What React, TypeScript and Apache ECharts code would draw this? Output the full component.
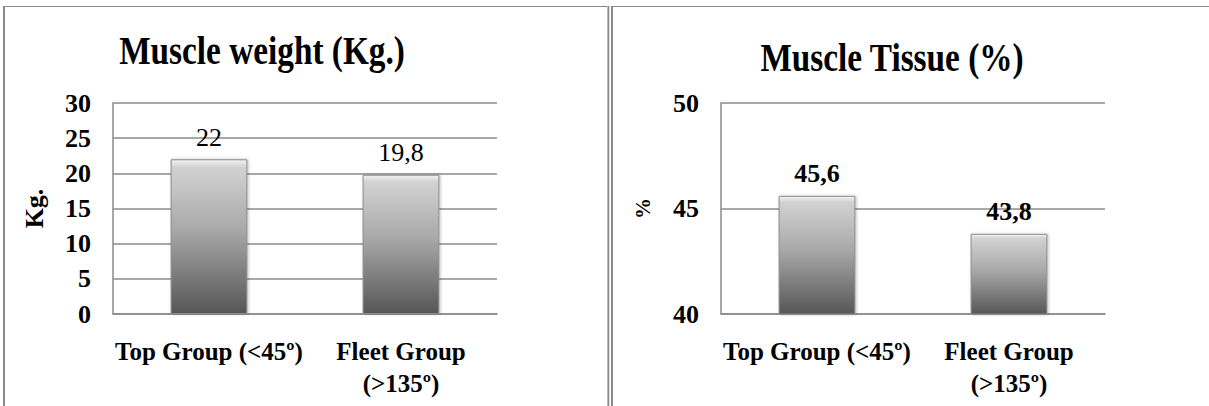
import React, { useEffect, useRef } from "react";
import * as echarts from "echarts";

const categories = ["Top Group (<45º)", "Fleet Group\n(>135º)"];
const weightValues = [22, 19.8];
const tissueValues = [45.6, 43.8];
const weightTicks = { min: 0, max: 30, interval: 5 };
const tissueTicks = { min: 40, max: 50, interval: 5 };
const weightTitle = "Muscle weight (Kg.)";
const tissueTitle = "Muscle Tissue (%)";
const weightAxisName = "Kg.";
const tissueAxisName = "%";

const FONT = "'Liberation Serif', 'DejaVu Serif', serif";
const GRID_GRAY = "#8a8a8a";

const barFill = new echarts.graphic.LinearGradient(0, 0, 0, 1, [
  { offset: 0, color: "#f2f2f2" },
  { offset: 0.05, color: "#d2d2d2" },
  { offset: 0.45, color: "#a9a9a9" },
  { offset: 1, color: "#565656" },
]);

const commaFmt = (p: any) => String(p.value).replace(".", ",");

export default function App() {
  const ref = useRef<HTMLDivElement>(null);

  useEffect(() => {
    if (!ref.current) return;
    const chart = echarts.init(ref.current, null, { renderer: "svg" });

    const yAxisBase = (ticks: any, name: string, nameGap: number, nameSize: number) => ({
      type: "value",
      min: ticks.min,
      max: ticks.max,
      interval: ticks.interval,
      name,
      nameLocation: "middle",
      nameRotate: 90,
      nameGap,
      nameTextStyle: { fontFamily: FONT, fontWeight: "bold", fontSize: nameSize, color: "#000" },
      axisLine: { show: true, lineStyle: { color: GRID_GRAY, width: 1.5 } },
      axisTick: { show: false },
      axisLabel: { fontFamily: FONT, fontWeight: "bold", fontSize: 26, color: "#000", margin: 22 },
      splitLine: { show: true, lineStyle: { color: GRID_GRAY, width: 1.5 } },
    });

    const xAxisBase = (gridIndex: number) => ({
      type: "category",
      gridIndex,
      data: categories,
      axisLine: { show: true, lineStyle: { color: GRID_GRAY, width: 1.5 } },
      axisTick: { show: false },
      axisLabel: {
        fontFamily: FONT,
        fontWeight: "bold",
        fontSize: 25,
        lineHeight: 32,
        color: "#000",
        margin: 21,
        interval: 0,
      },
    });

    const barSeries = (idx: number, data: number[], bold: boolean) => ({
      type: "bar",
      xAxisIndex: idx,
      yAxisIndex: idx,
      data,
      barWidth: "40%",
      itemStyle: {
        color: barFill,
        borderColor: "#8c8c8c",
        borderWidth: 1,
        shadowColor: "rgba(0,0,0,0.25)",
        shadowBlur: 3,
        shadowOffsetX: 1,
      },
      label: {
        show: true,
        position: "top",
        distance: 9,
        formatter: commaFmt,
        fontFamily: FONT,
        fontWeight: bold ? "bold" : "normal",
        fontSize: 26,
        color: "#000",
      },
    });

    chart.setOption({
      animation: false,
      backgroundColor: "#ffffff",
      grid: [
        { left: 113, right: 712, top: 103, bottom: 92 },
        { left: 721, right: 104, top: 103, bottom: 92 },
      ],
      xAxis: [xAxisBase(0), xAxisBase(1)],
      yAxis: [
        { ...yAxisBase(weightTicks, weightAxisName, 66, 26), gridIndex: 0 },
        { ...yAxisBase(tissueTicks, tissueAxisName, 68, 21), gridIndex: 1 },
      ],
      series: [barSeries(0, weightValues, false), barSeries(1, tissueValues, true)],
      graphic: [
        // panel frames
        { type: "line", shape: { x1: 4, y1: 6, x2: 4, y2: 406 }, style: { stroke: GRID_GRAY, lineWidth: 2 } },
        { type: "line", shape: { x1: 4, y1: 6.5, x2: 608, y2: 6.5 }, style: { stroke: GRID_GRAY, lineWidth: 1 } },
        { type: "line", shape: { x1: 607.5, y1: 6, x2: 607.5, y2: 406 }, style: { stroke: "#c8c8c8", lineWidth: 1 } },
        { type: "line", shape: { x1: 608.5, y1: 6, x2: 608.5, y2: 406 }, style: { stroke: GRID_GRAY, lineWidth: 1.5 } },
        { type: "line", shape: { x1: 612, y1: 6, x2: 612, y2: 406 }, style: { stroke: GRID_GRAY, lineWidth: 2 } },
        { type: "line", shape: { x1: 612, y1: 6.5, x2: 1209, y2: 6.5 }, style: { stroke: GRID_GRAY, lineWidth: 1 } },
        // titles
        {
          type: "text",
          x: 262,
          y: 50,
          scaleX: 0.9,
          scaleY: 1.08,
          style: {
            text: weightTitle,
            font: `bold 37px ${FONT}`,
            fill: "#000",
            align: "center",
            verticalAlign: "middle",
          },
        },
        {
          type: "text",
          x: 892,
          y: 57,
          scaleX: 0.9,
          scaleY: 1.08,
          style: {
            text: tissueTitle,
            font: `bold 37px ${FONT}`,
            fill: "#000",
            align: "center",
            verticalAlign: "middle",
          },
        },
      ],
    });

    return () => chart.dispose();
  }, []);

  return (
    <div
      ref={ref}
      style={{ position: "absolute", left: 0, top: 0, width: 1209, height: 406 }}
    />
  );
}
